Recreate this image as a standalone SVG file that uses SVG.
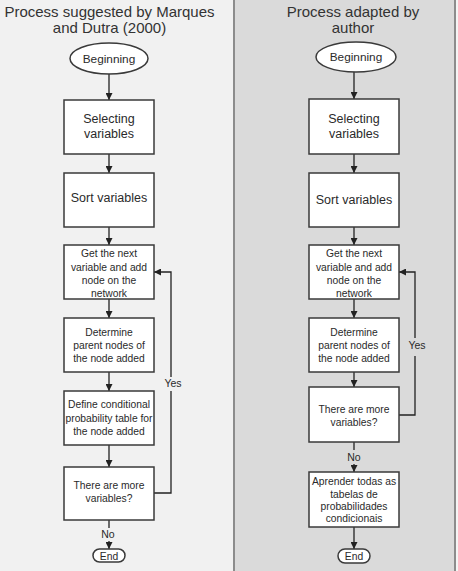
<svg xmlns="http://www.w3.org/2000/svg" width="458" height="571" viewBox="0 0 458 571">
<defs>
<marker id="ah" viewBox="0 0 10 10" refX="10" refY="5" markerWidth="7" markerHeight="7" markerUnits="userSpaceOnUse" orient="auto">
<path d="M0,0 L10,5 L0,10 z" fill="#222"/>
</marker>
<style>
.bg1{fill:#f1f1f1}
.bg2{fill:#dadada}
.sep{stroke:#8c8c8c;stroke-width:2;fill:none}
.box{fill:#ffffff;stroke:#3a3a3a;stroke-width:1.5}
.t{font-family:"Liberation Sans",Arial,sans-serif;fill:#2a2a2a;text-anchor:middle}
.title{font-size:15px;fill:#333}
.big{font-size:12.5px}
.sm{font-size:10.3px}
.beg{font-size:11.8px}
.lbl{font-size:10.5px}
.c{stroke:#222;stroke-width:1.3;fill:none}
.a{marker-end:url(#ah)}
</style>
</defs>
<rect class="bg1" x="0" y="0" width="234" height="571"/>
<rect class="bg2" x="234" y="0" width="221" height="571"/>
<rect fill="#f4f4f4" x="455" y="0" width="3" height="571"/>
<line class="sep" x1="234" y1="0" x2="234" y2="571"/>
<line class="sep" x1="455" y1="0" x2="455" y2="571"/>

<g id="title-left">
<text class="t title" x="109.5" y="16.5">Process suggested by Marques</text>
<text class="t title" x="109.5" y="32.5">and Dutra (2000)</text>
</g>
<g id="title-right">
<text class="t title" x="353" y="16.5">Process adapted by</text>
<text class="t title" x="353" y="32.5">author</text>
</g>

<g id="connectors">
<line class="c a" x1="109" y1="74" x2="109" y2="100"/>
<line class="c a" x1="109" y1="154" x2="109" y2="173"/>
<line class="c a" x1="109" y1="227" x2="109" y2="245"/>
<line class="c a" x1="109" y1="299" x2="109" y2="318"/>
<line class="c a" x1="109" y1="372" x2="109" y2="391"/>
<line class="c a" x1="109" y1="445" x2="109" y2="467"/>
<line class="c" x1="109" y1="520" x2="109" y2="528"/>
<line class="c a" x1="109" y1="541" x2="109" y2="549"/>
<polyline class="c" points="154,493 171,493 171,391"/>
<polyline class="c a" points="171,377 171,272 154,272"/>

<line class="c a" x1="354" y1="72" x2="354" y2="99"/>
<line class="c a" x1="354" y1="154" x2="354" y2="173"/>
<line class="c a" x1="354" y1="227" x2="354" y2="245"/>
<line class="c a" x1="354" y1="299" x2="354" y2="318"/>
<line class="c a" x1="354" y1="372" x2="354" y2="387"/>
<line class="c" x1="354" y1="442" x2="354" y2="450"/>
<line class="c a" x1="354" y1="464" x2="354" y2="472"/>
<line class="c a" x1="354" y1="527" x2="354" y2="549"/>
<polyline class="c" points="399,415 415,415 415,356"/>
<polyline class="c a" points="415,338 415,272 399,272"/>

<text class="t lbl" x="173" y="387">Yes</text>
<text class="t lbl" x="108" y="538">No</text>
<text class="t lbl" x="417" y="349">Yes</text>
<text class="t lbl" x="354" y="461">No</text>
</g>

<g id="l-begin"><ellipse class="box" cx="109" cy="58.5" rx="39" ry="15.5"/><text class="t beg" x="109" y="62.5">Beginning</text></g>
<g id="l-select"><rect class="box" x="64" y="100" width="90" height="54"/><text class="t big" x="109" y="123">Selecting</text><text class="t big" x="109" y="138">variables</text></g>
<g id="l-sort"><rect class="box" x="64" y="173" width="90" height="54"/><text class="t big" x="109" y="202">Sort variables</text></g>
<g id="l-get"><rect class="box" x="64" y="245" width="90" height="54"/><text class="t sm" x="109" y="257">Get the next</text><text class="t sm" x="109" y="270.5">variable and add</text><text class="t sm" x="109" y="284">node on the</text><text class="t sm" x="109" y="297">network</text></g>
<g id="l-determine"><rect class="box" x="64" y="318" width="90" height="54"/><text class="t sm" x="109" y="336">Determine</text><text class="t sm" x="109" y="349">parent nodes of</text><text class="t sm" x="109" y="362">the node added</text></g>
<g id="l-define"><rect class="box" x="64" y="391" width="90" height="54"/><text class="t sm" x="109" y="408">Define conditional</text><text class="t sm" x="109" y="422">probability table for</text><text class="t sm" x="109" y="435">the node added</text></g>
<g id="l-more"><rect class="box" x="64" y="467" width="90" height="53"/><text class="t sm" x="109" y="489">There are more</text><text class="t sm" x="109" y="502">variables?</text></g>
<g id="l-end"><rect class="box" x="93" y="549" width="32" height="13" rx="6.5"/><text class="t sm" x="109" y="559.5">End</text></g>

<g id="r-begin"><ellipse class="box" cx="356" cy="57" rx="40" ry="15"/><text class="t beg" x="356" y="61">Beginning</text></g>
<g id="r-select"><rect class="box" x="309" y="99" width="90" height="55"/><text class="t big" x="354" y="123">Selecting</text><text class="t big" x="354" y="138">variables</text></g>
<g id="r-sort"><rect class="box" x="309" y="173" width="90" height="54"/><text class="t big" x="354" y="204">Sort variables</text></g>
<g id="r-get"><rect class="box" x="309" y="245" width="90" height="54"/><text class="t sm" x="354" y="257">Get the next</text><text class="t sm" x="354" y="270.5">variable and add</text><text class="t sm" x="354" y="284">node on the</text><text class="t sm" x="354" y="297">network</text></g>
<g id="r-determine"><rect class="box" x="309" y="318" width="90" height="54"/><text class="t sm" x="354" y="336">Determine</text><text class="t sm" x="354" y="349">parent nodes of</text><text class="t sm" x="354" y="362">the node added</text></g>
<g id="r-more"><rect class="box" x="309" y="387" width="90" height="55"/><text class="t sm" x="354" y="413">There are more</text><text class="t sm" x="354" y="426">variables?</text></g>
<g id="r-learn"><rect class="box" x="309" y="472" width="90" height="55"/><text class="t sm" x="354" y="485">Aprender todas as</text><text class="t sm" x="354" y="497.5">tabelas de</text><text class="t sm" x="354" y="510">probabilidades</text><text class="t sm" x="354" y="521.5">condicionais</text></g>
<g id="r-end"><rect class="box" x="338" y="549" width="32" height="14" rx="7"/><text class="t sm" x="354" y="560">End</text></g>
</svg>
